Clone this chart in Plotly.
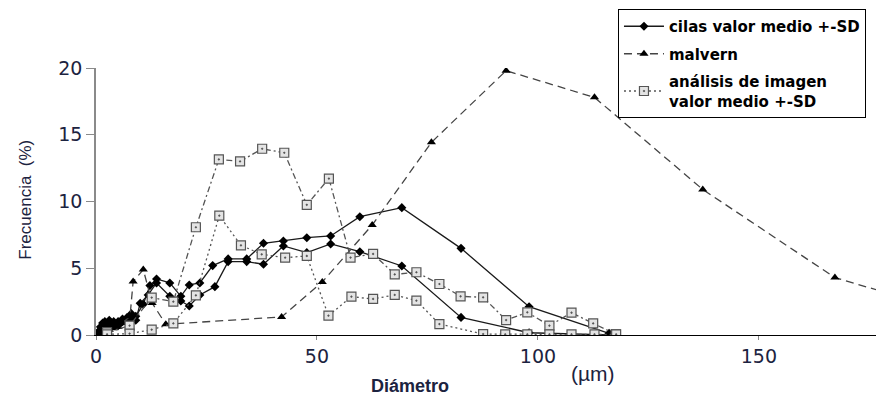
import plotly.graph_objects as go

# ---- data ----
cilas_hi_x = [0.5, 1, 1.5, 2, 2.5, 3, 3.5, 4, 5, 6, 7, 8, 9, 10.7, 12.2, 13.7, 16.7, 19.2, 21.1, 23.5, 26.4,
              29.9, 34.1, 37.9, 42.4, 47.7, 53.1, 59.7, 69.2, 82.6, 98.0, 116.1]
cilas_hi_y = [0.2, 0.6, 0.9, 1.0, 0.8, 1.1, 0.9, 1.0, 1.0, 1.2, 1.3, 1.6, 1.4, 2.3, 3.7, 4.2, 3.9, 2.9, 3.75, 3.9, 5.2,
              5.7, 5.7, 6.87, 7.04, 7.29, 7.42, 8.86, 9.54, 6.49, 2.12, 0.12]

cilas_lo_x = [0.5, 1, 1.5, 2, 2.5, 3, 4, 5, 6, 7, 8, 9, 10.0, 11.8, 13.7, 16.7, 19.2, 21.1, 23.5, 26.9,
              29.9, 34.1, 37.9, 42.4, 47.7, 53.1, 59.7, 69.2, 82.6, 98.0, 116.1]
cilas_lo_y = [0.1, 0.4, 0.7, 0.5, 0.9, 0.6, 0.8, 0.7, 1.0, 0.9, 1.2, 1.1, 2.37, 3.0, 3.9, 2.9, 2.55, 2.17, 3.0, 3.62,
              5.5, 5.5, 5.3, 6.67, 6.17, 6.82, 6.24, 5.17, 1.32, 0.17, 0.0]

malvern_x = [1.0, 2.0, 3.0, 4.0, 5.0, 6.0, 7.7, 8.4, 10.7, 12.7, 15.8, 42.0, 51.2, 62.5, 75.9, 92.8, 112.8,
             137.3, 167.2, 197.0]
malvern_y = [0.1, 0.2, 0.4, 0.5, 0.6, 0.9, 1.4, 4.0, 4.9, 2.4, 0.8, 1.35, 3.97, 8.24, 14.43, 19.8, 17.8,
             10.9, 4.3, 1.4]

img_hi_x = [2.5, 7.6, 12.6, 17.5, 22.6, 27.8, 32.6, 37.6, 42.6, 47.7, 52.7, 57.6, 62.7, 67.6, 72.5, 77.7,
            82.5, 87.6, 92.8, 97.6, 102.6, 107.6, 112.5, 117.6]
img_hi_y = [0.2, 0.7, 2.8, 2.5, 8.07, 13.15, 13.0, 13.95, 13.65, 9.75, 11.72, 5.8, 6.07, 4.54, 4.7, 3.82,
            2.9, 2.82, 1.12, 1.7, 0.7, 1.67, 0.87, 0.07]

img_lo_x = [2.5, 7.6, 12.6, 17.5, 22.6, 27.9, 32.8, 37.5, 42.8, 47.7, 52.6, 57.8, 62.7, 67.6, 72.5, 77.7,
            87.6, 92.6, 97.6, 102.6, 107.6, 112.8, 117.7]
img_lo_y = [0.05, 0.1, 0.4, 0.87, 2.97, 8.94, 6.72, 6.04, 5.79, 5.92, 1.45, 2.87, 2.7, 3.0, 2.57, 0.82,
            0.07, 0.05, 0.05, 0.05, 0.05, 0.05, 0.05]

x_ticks = [0, 50, 100, 150]
y_ticks = [0, 5, 10, 15, 20]

name_cilas = "cilas valor medio +-SD"
name_malvern = "malvern"
name_img = "análisis de imagen<br>valor medio +-SD"

fig = go.Figure()

cilas_line = dict(color="#1a1a1a", width=1.3)
cilas_marker = dict(symbol="diamond", size=7, color="#000000")
fig.add_trace(go.Scatter(x=cilas_hi_x, y=cilas_hi_y, mode="lines+markers", name=name_cilas,
                         line=cilas_line, marker=cilas_marker, legendgroup="g1", legendrank=1))
fig.add_trace(go.Scatter(x=cilas_lo_x, y=cilas_lo_y, mode="lines+markers", name=name_cilas,
                         line=cilas_line, marker=cilas_marker, legendgroup="g1", showlegend=False))

fig.add_trace(go.Scatter(x=malvern_x, y=malvern_y, mode="lines+markers", name=name_malvern,
                         line=dict(color="#444444", width=1.3, dash="8px,5px"),
                         marker=dict(symbol="triangle-up", size=8, color="#000000"),
                         legendgroup="g2", legendrank=2))

sq_marker = dict(symbol="square-dot", size=9, color="#e4e4e4", line=dict(color="#555555", width=1.2))
fig.add_trace(go.Scatter(x=img_hi_x, y=img_hi_y, mode="lines+markers", name=name_img,
                         line=dict(color="#555555", width=1.3, dash="6px,3px,2px,3px"),
                         marker=sq_marker, legendgroup="g3", showlegend=False))
fig.add_trace(go.Scatter(x=img_lo_x, y=img_lo_y, mode="lines+markers", name=name_img,
                         line=dict(color="#555555", width=1.3, dash="2px,3px"),
                         marker=sq_marker, legendgroup="g3", legendrank=3))

tick_font = dict(family="DejaVu Sans", size=19, color="#1c2340")

fig.update_layout(
    width=876, height=395,
    margin=dict(l=96, r=0, t=68, b=60),
    paper_bgcolor="white", plot_bgcolor="white",
    showlegend=True,
    legend=dict(x=0.6692, y=1.221, xanchor="left", yanchor="top",
                bgcolor="white", bordercolor="#000000", borderwidth=1,
                font=dict(family="DejaVu Sans", size=15, color="#000000", weight="bold"),
                traceorder="grouped", tracegroupgap=5, itemwidth=40),
    xaxis=dict(range=[0, 176.5], tickvals=x_ticks, ticktext=[str(v) for v in x_ticks],
               showgrid=False, zeroline=False, showline=True, linecolor="#000000", linewidth=1.2,
               ticks="outside", ticklen=4, tickcolor="#888888", tickwidth=1,
               tickfont=tick_font),
    yaxis=dict(range=[0, 20], tickvals=y_ticks, ticktext=[str(v) for v in y_ticks],
               showgrid=False, zeroline=False, showline=True, linecolor="#8a8a8a", linewidth=1.6,
               ticks="outside", ticklen=8, tickcolor="#8a8a8a", tickwidth=1.2,
               tickfont=tick_font),
    annotations=[
        dict(text="Frecuencia  (%)", xref="paper", yref="paper", x=-0.09, y=0.506,
             textangle=-90, showarrow=False, xanchor="center", yanchor="middle",
             font=dict(family="Liberation Sans", size=17, color="#1c2340")),
        dict(text="<b>Diámetro</b>", xref="paper", yref="paper", x=0.403, y=-0.19,
             showarrow=False, xanchor="center", yanchor="middle",
             font=dict(family="Liberation Sans", size=18, color="#1c2340")),
        dict(text="(µm)", xref="paper", yref="paper", x=0.637, y=-0.146,
             showarrow=False, xanchor="center", yanchor="middle",
             font=dict(family="Liberation Sans", size=21, color="#1c2340")),
    ],
)

fig.write_html("out.html")
